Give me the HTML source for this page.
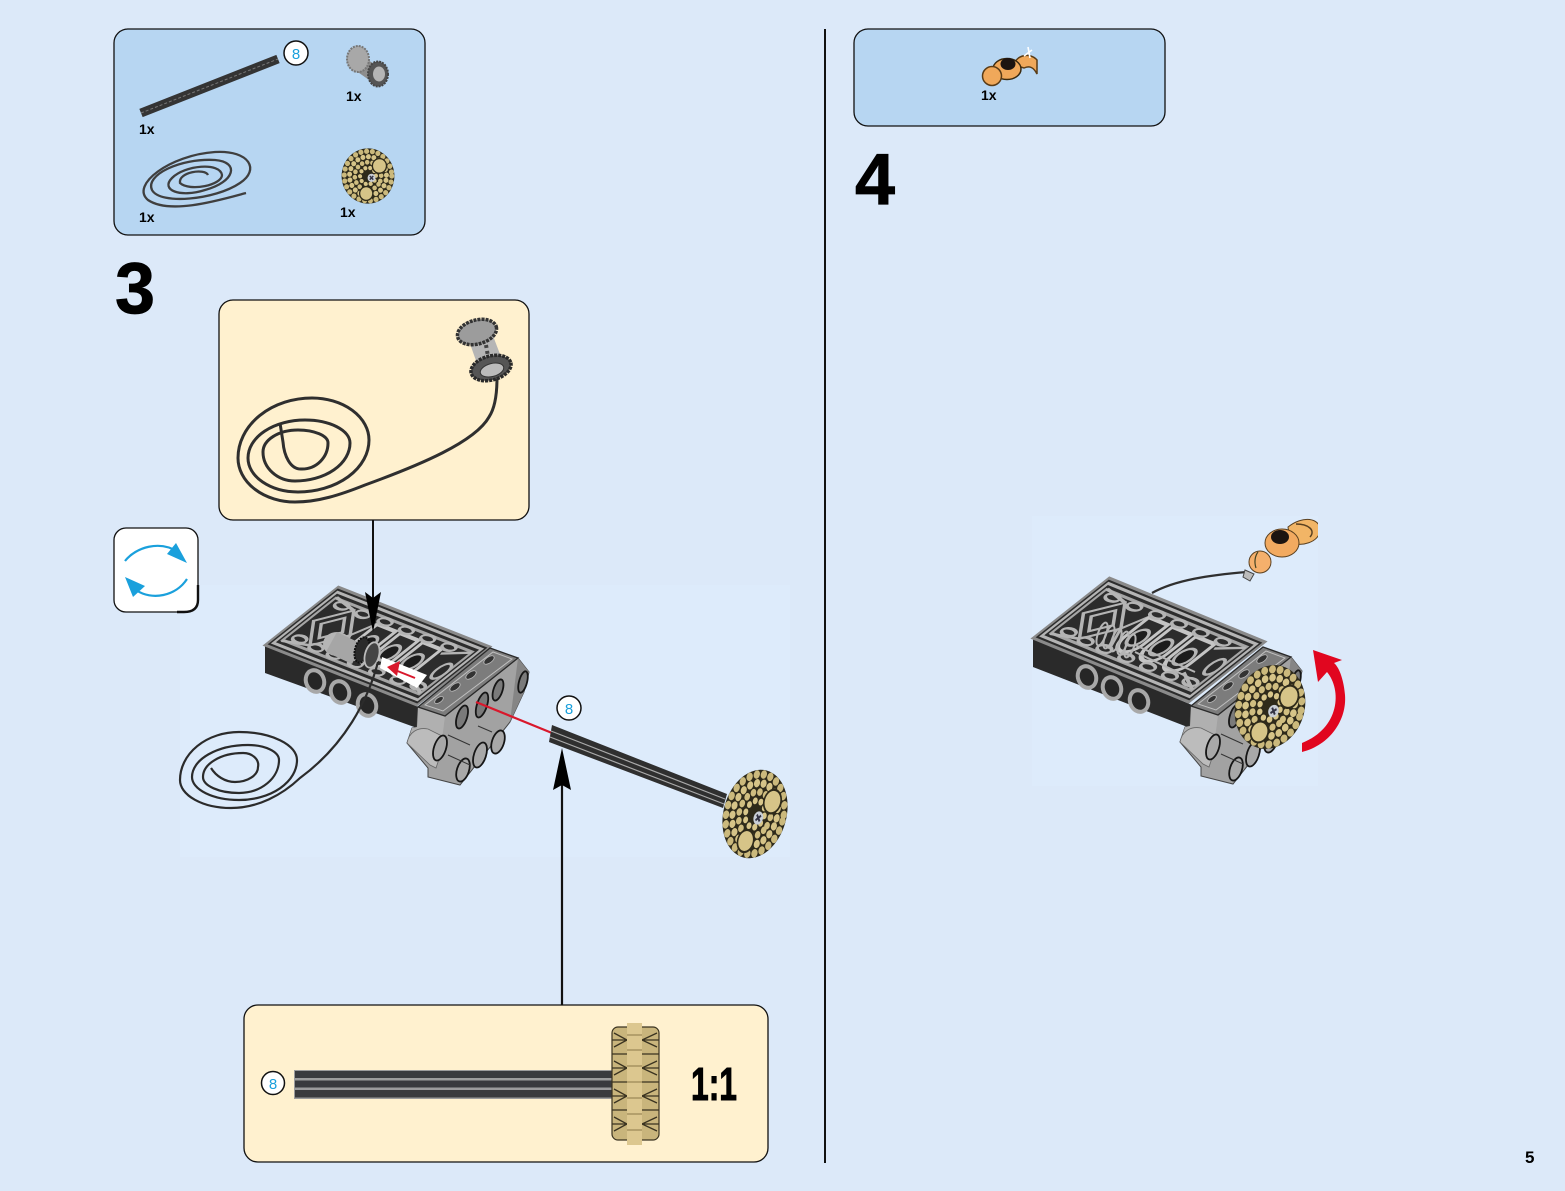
<!DOCTYPE html>
<html><head><meta charset="utf-8"><style>
html,body{margin:0;padding:0;background:#dce9f9;width:1565px;height:1191px;overflow:hidden}
svg{display:block}
text{font-family:"Liberation Sans",sans-serif}
.b{font-weight:bold;fill:#000}
.n{fill:#1aa0dc;font-size:15px;text-anchor:middle}
.c{fill:#fff;stroke:#111;stroke-width:1.5}
</style></head><body>
<svg width="1565" height="1191" viewBox="0 0 1565 1191" xmlns="http://www.w3.org/2000/svg">
<defs>
<clipPath id="c3"><rect x="170" y="570" width="620" height="300"/></clipPath>
<clipPath id="c4"><rect x="1030" y="510" width="288" height="290"/></clipPath>
<g id="wheel">
<circle r="30" fill="#2e2a1a"/>
<g fill="none" stroke-linecap="round">
<circle r="27" stroke="#cbb97c" stroke-width="5.800" stroke-dasharray="0 6.600"/>
<circle r="21" stroke="#d6c488" stroke-width="5.600" stroke-dasharray="0 6.300" transform="rotate(13)"/>
<circle r="15" stroke="#cfbd80" stroke-width="5.200" stroke-dasharray="0 6" transform="rotate(37)"/>
<circle r="9" stroke="#d8c68a" stroke-width="4.600" stroke-dasharray="0 5.600" transform="rotate(71)"/>
</g>
<circle cx="13" cy="-11" r="8" fill="#d6c488" stroke="#2e2a1a" stroke-width="1.500"/>
<circle cx="-2" cy="19" r="7.500" fill="#d6c488" stroke="#2e2a1a" stroke-width="1.500"/>
<circle cx="4" cy="2" r="4.500" fill="#c9ced6"/><path d="M2 0 6 4M6 0 2 4" stroke="#334" stroke-width="1.600"/>
</g>
<g id="lat" fill="none" stroke="#b4b4b4" stroke-width="1.500">
<rect x="0" y="0" width="100" height="40" fill="#2c2c2c" stroke="#8a8a8a"/>
<rect x="2.500" y="2.500" width="95" height="35"/>
<rect x="5" y="5.500" width="90" height="29" stroke="#a5a5a5"/>
<path d="M8 20 20 8 32 20 20 32Z M13 20 20 13 27 20 20 27Z M32 20 38 9M32 20 38 31M5 5 20 8M5 35 20 32M95 6 82 12M95 34 82 28"/>
<path d="M38 10h12v13a6 7 0 0 1-12 0Z M53 10h12v13a6 7 0 0 1-12 0Z M68 10h12v13a6 7 0 0 1-12 0Z" stroke="#c4c4c4" stroke-width="2"/>
<ellipse cx="44" cy="21" rx="4" ry="5" fill="#1c1c1c"/><ellipse cx="59" cy="21" rx="4" ry="5" fill="#1c1c1c"/><ellipse cx="74" cy="21" rx="4" ry="5" fill="#1c1c1c"/>
<ellipse cx="12" cy="31" rx="4" ry="2"/><ellipse cx="24" cy="32" rx="4" ry="2"/><ellipse cx="36" cy="32" rx="4" ry="2"/><ellipse cx="50" cy="32" rx="4" ry="2"/><ellipse cx="64" cy="32" rx="4" ry="2"/><ellipse cx="78" cy="32" rx="4" ry="2"/><ellipse cx="90" cy="31" rx="4" ry="2"/>
<ellipse cx="12" cy="8" rx="4" ry="2"/><ellipse cx="26" cy="8" rx="4" ry="2"/><ellipse cx="40" cy="7.500" rx="4" ry="2"/><ellipse cx="54" cy="7.500" rx="4" ry="2"/><ellipse cx="68" cy="7.500" rx="4" ry="2"/><ellipse cx="82" cy="7.500" rx="4" ry="2"/><ellipse cx="92" cy="20" rx="3" ry="5"/>
</g>
<g id="endf">
<path d="M418 707 445 716 518 658 529 672 524 692 510 722 460 785 428 777 428 768 407 743 412 728 417 727Z" fill="#a2a2a2" stroke="#444" stroke-width="1"/>
<path d="M418 707 445 716 442 740 430 765 407 743 412 728 417 727Z" fill="#b0b0b0"/>
<path d="M407 743C409 732 418 727 428 729L446 738 436 768 430 765Z" fill="#bcbcbc" stroke="#666" stroke-width=".8"/>
<path d="M490 648 518 658 445 716 418 707Z" fill="#7c7c7c" stroke="#2a2a2a" stroke-width="1.300"/>
<path d="M493 652 512 659 443 711 425 705Z" fill="none" stroke="#c0c0c0" stroke-width="1"/>
<g fill="#333" stroke="#bbb" stroke-width=".8">
<ellipse cx="489" cy="660" rx="6" ry="3" transform="rotate(-35 489 660)"/>
<ellipse cx="471" cy="675" rx="6" ry="3" transform="rotate(-35 471 675)"/>
<ellipse cx="455" cy="687" rx="6" ry="3" transform="rotate(-35 455 687)"/>
<ellipse cx="439" cy="700" rx="5" ry="2.500" transform="rotate(-35 439 700)"/>
</g>
<path d="M518 658 529 672 524 692 510 722 514 690Z" fill="#858585"/>
<g fill="#7a7a7a" stroke="#161616" stroke-width="1.800">
<ellipse cx="482" cy="705" rx="5" ry="13" transform="rotate(18 482 705)"/>
<ellipse cx="462" cy="717" rx="5" ry="12" transform="rotate(18 462 717)"/>
<ellipse cx="498" cy="690" rx="4.500" ry="11" transform="rotate(18 498 690)"/>
<ellipse cx="440" cy="748" rx="6" ry="13" transform="rotate(18 440 748)" fill="#a8a8a8"/>
<ellipse cx="480" cy="755" rx="6" ry="13" transform="rotate(18 480 755)" fill="#a8a8a8"/>
<ellipse cx="498" cy="742" rx="6" ry="12" transform="rotate(18 498 742)" fill="#a8a8a8"/>
<ellipse cx="463" cy="770" rx="6" ry="12" transform="rotate(18 463 770)" fill="#a8a8a8"/>
<ellipse cx="523" cy="682" rx="4" ry="11" transform="rotate(15 523 682)"/>
</g>
<path d="M448 735 470 745M478 726 492 732M448 755 470 765" stroke="#333" stroke-width="1"/>
</g>
<g id="holes" fill="#262626" stroke="#a8a8a8" stroke-width="4">
<ellipse cx="315" cy="681" rx="9" ry="11" transform="rotate(-20 315 681)"/>
<ellipse cx="340" cy="692" rx="9" ry="11" transform="rotate(-20 340 692)"/>
<ellipse cx="367" cy="705" rx="9" ry="11" transform="rotate(-20 367 705)"/>
</g>
</defs>

<rect width="1565" height="1191" fill="#dce9f9"/>
<rect x="180" y="585" width="610" height="272" fill="#ddebfb"/>
<rect x="1032" y="516" width="286" height="270" fill="#ddebfb"/>
<rect x="824" y="29" width="2" height="1134" fill="#111"/>

<!-- parts panel 1 -->
<rect x="114" y="29" width="311" height="206" rx="14" fill="#b7d6f2" stroke="#111" stroke-width="1.300"/>
<path d="M141 113 278 59" stroke="#343434" stroke-width="9"/>
<path d="M141 113 278 59" stroke="#777" stroke-width="1" stroke-dasharray="3 2"/>
<circle cx="296" cy="53" r="12" class="c"/><text x="296" y="59" class="n">8</text>
<g>
<path d="M354 52 378 66 372 82 352 68Z" fill="#8d8d8d"/>
<ellipse cx="358" cy="59" rx="11" ry="13" fill="#a8a8a8" stroke="#777" stroke-width="2" stroke-dasharray="2 1"/>
<ellipse cx="378" cy="74" rx="10" ry="12.500" fill="#555" stroke="#444" stroke-width="2" stroke-dasharray="2 1"/>
<ellipse cx="379" cy="74" rx="6" ry="7.500" fill="#b5b5b5"/>
</g>
<path d="M246 193C220 200 170 215 148 200 130 185 170 155 215 152 250 150 260 170 240 183 215 200 160 205 152 190 145 175 180 158 215 160 240 162 235 182 205 190 180 198 160 190 172 178 185 165 220 162 222 175 222 185 190 192 180 183 178 172 205 168 208 175" fill="none" stroke="#3f3f3f" stroke-width="2.300"/>
<use href="#wheel" transform="translate(368 176) scale(.88 .92)"/>
<text x="139" y="134" font-size="14" class="b">1x</text>
<text x="346" y="101" font-size="14" class="b">1x</text>
<text x="139" y="222" font-size="14" class="b">1x</text>
<text x="340" y="217" font-size="14" class="b">1x</text>

<!-- parts panel 2 -->
<rect x="854" y="29" width="311" height="97" rx="14" fill="#b7d6f2" stroke="#111" stroke-width="1.300"/>
<path d="M1014 65C1016 55 1030 52 1037 60L1037 74C1034 68 1030 65 1024 68Z" fill="#f0a85a" stroke="#5a3c16" stroke-width="1.500"/>
<ellipse cx="1007" cy="69" rx="14" ry="10.500" fill="#f0a85a" stroke="#3a2a10" stroke-width="1.500"/>
<ellipse cx="1008" cy="64" rx="7.500" ry="6" fill="#1c1410"/>
<circle cx="992" cy="76" r="9.500" fill="#f0a85a" stroke="#5a3c16" stroke-width="1.500"/>
<path d="M1024 56 1032 50M1028 47 1030 58" stroke="#fff" stroke-width="1.600"/>
<text x="981" y="100" font-size="14" class="b">1x</text>

<text x="115" y="313" font-size="72" class="b" stroke="#000" stroke-width=".8">3</text>
<text x="855" y="204" font-size="72" class="b" stroke="#000" stroke-width=".8">4</text>
<text x="1525" y="1163" font-size="17" class="b">5</text>

<!-- cream callout 1 -->
<rect x="219" y="300" width="310" height="220" rx="14" fill="#fff1cf" stroke="#111" stroke-width="1.300"/>
<path d="M497 378C497 395 495 408 489 417 475 442 420 465 365 485 340 495 318 502 295 502A57 44 0 0 1 238 458A74 60 0 0 1 312 398A57 42 0 0 1 369 440A71 52 0 0 1 298 492A50 34 0 0 1 248 458A57 38 0 0 1 305 420A45 23 0 0 1 350 443A55 38 0 0 1 295 481A32 29 0 0 1 263 452A35 22 0 0 1 298 430A30 13 0 0 1 328 443A26 26 0 0 1 302 469C290 470 284 455 283 442L280 423" fill="none" stroke="#2f2f2f" stroke-width="3"/>
<path d="M468 338 490 328 503 362 480 372Z" fill="#b5b5b5"/>
<path d="M486 345 490 368" stroke="#444" stroke-width="4" stroke-dasharray="3 3"/>
<ellipse cx="477" cy="332" rx="20" ry="12" transform="rotate(-15 477 332)" fill="#9c9c9c" stroke="#333" stroke-width="3.500" stroke-dasharray="3 1"/>
<ellipse cx="491" cy="368" rx="20.500" ry="12" transform="rotate(-15 491 368)" fill="#555" stroke="#2a2a2a" stroke-width="3.500" stroke-dasharray="3 1"/>
<ellipse cx="492" cy="370" rx="12" ry="6.500" transform="rotate(-15 492 370)" fill="#bbb" stroke="#333"/>

<!-- cream callout 2 -->
<rect x="244" y="1005" width="524" height="157" rx="14" fill="#fff1cf" stroke="#111" stroke-width="1.300"/>
<rect x="294" y="1070" width="318" height="29" fill="#9c9c9c"/>
<rect x="295" y="1071" width="317" height="7" fill="#3a3b3e"/>
<rect x="295" y="1080.500" width="317" height="7" fill="#3a3b3e"/>
<rect x="295" y="1090" width="317" height="7.500" fill="#3a3b3e"/>
<circle cx="273" cy="1083" r="11.500" class="c"/><text x="273" y="1089" class="n">8</text>
<rect x="612" y="1027" width="47" height="113" rx="6" fill="#c9b57c" stroke="#3a3320" stroke-width="1.200"/>
<g stroke="#3a3320" stroke-width="1.300" fill="none">
<path d="M612 1040h47M612 1054h47M612 1068h47M612 1082h47M612 1096h47M612 1110h47M612 1124h47"/>
<path d="M614 1033 627 1040 614 1047M657 1033 642 1040 657 1047M614 1061 627 1068 614 1075M657 1061 642 1068 657 1075M614 1089 627 1096 614 1103M657 1089 642 1096 657 1103M614 1117 627 1124 614 1131M657 1117 642 1124 657 1131"/>
</g>
<rect x="627" y="1023" width="15" height="122" fill="#dcc78f"/>
<path d="M627 1035h15M627 1050h15M627 1066h15M627 1082h15M627 1098h15M627 1114h15M627 1130h15" stroke="#8c7a48" stroke-width="1"/>
<text x="691" y="1100" font-size="46" class="b" stroke="#000" stroke-width="1" textLength="46" lengthAdjust="spacingAndGlyphs">1:1</text>

<!-- rotate icon -->
<rect x="114" y="528" width="84" height="84" rx="12" fill="#fff" stroke="#111" stroke-width="1.300"/>
<path d="M198 585V600Q198 612 184 612H177" fill="none" stroke="#111" stroke-width="2.400"/>
<path d="M125 561C136 547 160 540 178 552" fill="none" stroke="#1aa0dc" stroke-width="2.200"/>
<path d="M187 563 176 543 167 554Z" fill="#1aa0dc"/>
<path d="M187 579C176 596 152 601 136 590" fill="none" stroke="#1aa0dc" stroke-width="2.200"/>
<path d="M125 577 133 597 145 586Z" fill="#1aa0dc"/>

<!-- step 3 model -->
<path d="M265 645 419 707 417 728 265 673Z" fill="#2a2a2a"/>
<use href="#holes"/>
<use href="#lat" transform="matrix(1.52 .6 -1.825 1.45 338 587)"/>
<use href="#endf"/>
<path d="M382 657 427 675 417 688 380 668Z" fill="#fff"/>
<ellipse cx="337" cy="644" rx="14" ry="12" fill="#b5b5b5"/>
<path d="M337 632 362 644 352 664 326 652Z" fill="#a6a6a6"/>
<ellipse cx="362" cy="650" rx="7" ry="13" transform="rotate(15 362 650)" fill="#2a2a2a" stroke="#111" stroke-width="2" stroke-dasharray="2 1"/>
<ellipse cx="372" cy="655" rx="7" ry="13" transform="rotate(15 372 655)" fill="#444" stroke="#bbb" stroke-width="1.800"/>
<path d="M415 678 395 670" stroke="#d9182c" stroke-width="2"/>
<path d="M387 667 400 661 397 676Z" fill="#d9182c"/>
<path d="M476 702 552 733" stroke="#d9182c" stroke-width="2.200"/>
<path d="M378 662C368 700 345 745 300 778 282 795 258 808 231 808A51 28 0 0 1 180 780A59 48 0 0 1 239 732A58 28 0 0 1 297 760A58 40 0 0 1 239 800A47 23 0 0 1 192 777A56 32 0 0 1 248 745A31 15 0 0 1 279 760A40 33 0 0 1 239 793A36 16 0 0 1 203 777A40 24 0 0 1 243 753A15 12 0 0 1 258 767A23 15 0 0 1 235 782C225 782 216 776 211 768" fill="none" stroke="#2b2b2b" stroke-width="2.200"/>
<path d="M552 725 727 794 723 808 549 742Z" fill="#2f2f2f"/>
<path d="M551 731 725 799M550 737 724 804" stroke="#a9a9a9" stroke-width="1.200"/>
<g clip-path="url(#c3)"><use href="#wheel" transform="translate(755 814) rotate(15) scale(1.05 1.5)"/></g>
<circle cx="569" cy="708" r="12" class="c"/><text x="569" y="714" class="n">8</text>
<path d="M373 520V600" stroke="#111" stroke-width="2"/>
<path d="M365 592 373 598 381 592 373 632Z" fill="#000"/>
<path d="M562 1005V785" stroke="#111" stroke-width="2.200"/>
<path d="M562 748 571 790 562 785 553 790Z" fill="#000"/>

<!-- step 4 model -->
<path d="M1033 638 1192 705 1190 728 1033 667Z" fill="#2a2a2a"/>
<use href="#holes" transform="translate(772 -4)"/>
<use href="#lat" transform="matrix(1.56 .64 -1.9 1.5 1109 578)"/>
<use href="#endf" transform="translate(773 -1)"/>
<g fill="none" stroke="#b5b5b5" stroke-width="2">
<ellipse cx="1102" cy="634" rx="4" ry="12" transform="rotate(20 1102 634)"/>
<ellipse cx="1109" cy="637" rx="4" ry="12" transform="rotate(20 1109 637)"/>
<ellipse cx="1116" cy="640" rx="4" ry="12" transform="rotate(20 1116 640)"/>
<ellipse cx="1123" cy="643" rx="4" ry="12" transform="rotate(20 1123 643)"/>
<ellipse cx="1130" cy="646" rx="4" ry="12" transform="rotate(20 1130 646)"/>
<path d="M1135 645 1195 672M1135 652 1190 678"/>
</g>
<path d="M1152 593C1175 580 1210 575 1247 572" fill="none" stroke="#2f2f2f" stroke-width="2.200"/>
<path d="M1245 570 1254 574 1250 581 1243 577Z" fill="#bbb" stroke="#444"/>
<g clip-path="url(#c4)">
<path d="M1288 527C1303 515 1320 518 1320 530 1320 542 1300 548 1290 542Z" fill="#f2b566" stroke="#5a4020"/>
<path d="M1296 524C1308 524 1316 530 1310 537" fill="none" stroke="#5a4020" stroke-width="1.500"/>
<ellipse cx="1282" cy="543" rx="17" ry="14" fill="#f2aa60" stroke="#5a4020"/>
<ellipse cx="1280" cy="537" rx="9" ry="7" fill="#1c1410"/>
<circle cx="1260" cy="562" r="11" fill="#f5b06c" stroke="#5a4020"/>
<path d="M1258 552C1255 556 1254 562 1256 568" fill="none" stroke="#442" stroke-width="1.200"/>
</g>
<use href="#wheel" transform="translate(1270 707) rotate(18) scale(1.15 1.42)"/>
<path d="M1302 752C1330 745 1347 720 1345 695 1344 682 1340 668 1334 663L1342 660 1313 650 1318 682 1327 672C1342 690 1340 728 1302 743Z" fill="#e1061f"/>
</svg>
</body></html>
